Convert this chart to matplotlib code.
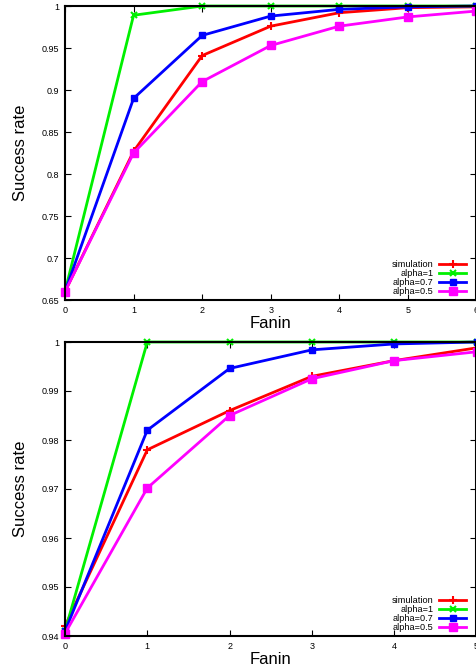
import matplotlib
matplotlib.use("Agg")
import matplotlib.pyplot as plt
from matplotlib.ticker import FormatStrFormatter

plt.rcParams['font.family'] = ['Liberation Sans', 'DejaVu Sans']

# top panel
fanin_top = [0, 1, 2, 3, 4, 5, 6]
sim_top = [0.66, 0.827, 0.941, 0.976, 0.992, 0.998, 0.999]
a1_top = [0.66, 0.989, 1.0, 1.0, 1.0, 1.0, 1.0]
a07_top = [0.66, 0.890, 0.965, 0.988, 0.996, 0.999, 1.0]
a05_top = [0.66, 0.825, 0.910, 0.953, 0.976, 0.987, 0.994]
yticks_top = [0.65, 0.7, 0.75, 0.8, 0.85, 0.9, 0.95, 1.0]

# bottom panel
fanin_bot = [0, 1, 2, 3, 4, 5]
sim_bot = [0.942, 0.978, 0.986, 0.993, 0.9962, 0.9988]
a1_bot = [0.941, 1.0, 1.0, 1.0, 1.0, 1.0]
a07_bot = [0.941, 0.982, 0.9946, 0.9984, 0.9996, 1.0]
a05_bot = [0.9405, 0.9702, 0.985, 0.9925, 0.9962, 0.998]
yticks_bot = [0.94, 0.95, 0.96, 0.97, 0.98, 0.99, 1.0]

labels = ["simulation", "alpha=1", "alpha=0.7", "alpha=0.5"]

fig = plt.figure(figsize=(4.77, 6.72), dpi=100)
ax1 = fig.add_axes([65/477, 1 - 300/672, 411.5/477, 294/672])
ax2 = fig.add_axes([65/477, 1 - 636/672, 411.5/477, 294/672])


def draw(ax, x, sim, a1, a07, a05, yticks):
    ax.plot(x, sim, color='#ff0000', lw=2, marker='+', ms=6, mew=1.5, label=labels[0], clip_on=False)
    ax.plot(x, a1, color='#00f000', lw=2, marker='x', ms=5, mew=1.5, label=labels[1], clip_on=False)
    ax.plot(x, a07, color='#0000ff', lw=2, marker='s', ms=5, label=labels[2], clip_on=False)
    ax.plot(x, a05, color='#ff00ff', lw=2, marker='s', ms=6, label=labels[3], clip_on=False)
    ax.set_xlim(x[0], x[-1])
    ax.set_ylim(yticks[0], yticks[-1])
    ax.set_xticks(x)
    ax.set_yticks(yticks)
    ax.yaxis.set_major_formatter(FormatStrFormatter('%g'))
    ax.tick_params(direction='in', top=True, right=True, labelsize=6.5, length=4, pad=4)
    for s in ax.spines.values():
        s.set_linewidth(1.5)
    ax.set_xlabel("Fanin", fontsize=12, labelpad=1)
    ax.set_ylabel("Success rate", fontsize=12, labelpad=10)
    leg = ax.legend(loc='lower right', bbox_to_anchor=(1 - 10/411.5, 4/294),
                    markerfirst=False, frameon=False, fontsize=6.6,
                    handlelength=3.0, handletextpad=0.6, labelspacing=0.0,
                    borderaxespad=0, borderpad=0)
    for t in leg.get_texts():
        t.set_ha('right')


draw(ax1, fanin_top, sim_top, a1_top, a07_top, a05_top, yticks_top)
draw(ax2, fanin_bot, sim_bot, a1_bot, a07_bot, a05_bot, yticks_bot)

fig.savefig("out.png", dpi=100)
